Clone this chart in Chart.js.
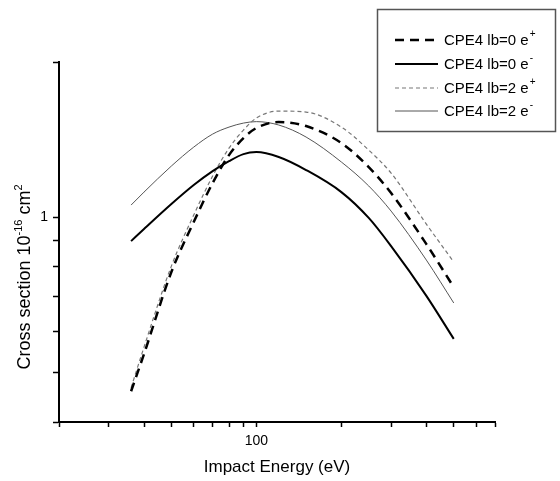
<!DOCTYPE html>
<html>
<head>
<meta charset="utf-8">
<script src="https://cdn.jsdelivr.net/npm/chart.js@4.4.1/dist/chart.umd.min.js"></script>
<style>
  html, body { margin: 0; padding: 0; background: #fff; }
  #wrap { width: 560px; height: 481px; }
</style>
</head>
<body>
<div id="wrap"><canvas id="myChart" width="560" height="481"></canvas></div>
<script>
// impact energies (eV) the curves were read at
const energy = [36, 40, 50, 60, 70, 80, 90, 100, 120, 150, 200, 250, 300, 400, 500];

// cross sections in units of 1e-16 cm^2
const lb0Positron = [0.459, 0.542, 0.782, 0.978, 1.164, 1.319, 1.423, 1.489, 1.529, 1.502, 1.392, 1.250, 1.113, 0.886, 0.731];
const lb0Electron = [0.898, 0.948, 1.060, 1.154, 1.228, 1.284, 1.325, 1.337, 1.308, 1.234, 1.118, 0.996, 0.878, 0.703, 0.580];
const lb2Positron = [0.466, 0.559, 0.803, 1.009, 1.201, 1.361, 1.475, 1.557, 1.606, 1.599, 1.495, 1.349, 1.217, 0.969, 0.818];
const lb2Electron = [1.055, 1.118, 1.256, 1.367, 1.449, 1.495, 1.522, 1.532, 1.509, 1.430, 1.279, 1.149, 1.027, 0.825, 0.681];

// legend text, charge goes in superscript
const seriesNames = ['CPE4 lb=0 e', 'CPE4 lb=0 e', 'CPE4 lb=2 e', 'CPE4 lb=2 e'];
const seriesCharge = ['+', '-', '+', '-'];

// tick marks (only some get a label)
const xTickValues = [20, 30, 40, 50, 60, 70, 80, 90, 100, 200, 300, 400, 500, 600, 700];
const yTickValues = [0.4, 0.5, 0.6, 0.7, 0.8, 0.9, 1, 2];
const xLabelled = [100];
const yLabelled = [1];

const FONT = "'Liberation Sans', Arial, sans-serif";

function points(ys) {
    return energy.map((e, i) => ({ x: e, y: ys[i] }));
}

// draws the boxed legend and the y title with superscripts
const extras = {
    id: 'extras',
    afterDraw(chart) {
        const c = chart.ctx;
        c.save();

        // legend box
        c.fillStyle = '#fff';
        c.fillRect(377.5, 9.5, 178, 122);
        c.strokeStyle = '#555';
        c.lineWidth = 1.5;
        c.strokeRect(377.5, 9.5, 178, 122);

        const rows = [40, 64, 88, 111];
        chart.data.datasets.forEach((ds, i) => {
            const y = rows[i];
            c.beginPath();
            c.strokeStyle = ds.borderColor;
            c.lineWidth = ds.borderWidth;
            c.setLineDash(ds.borderDash || []);
            c.moveTo(395, y);
            c.lineTo(438, y);
            c.stroke();
            c.setLineDash([]);

            c.fillStyle = '#000';
            c.font = '15px ' + FONT;
            c.textBaseline = 'alphabetic';
            c.textAlign = 'left';
            c.fillText(seriesNames[i], 444, y + 5);
            const w = c.measureText(seriesNames[i]).width;
            c.font = '10px ' + FONT;
            c.fillText(seriesCharge[i], 444 + w + 1, y - 3);
        });

        // y axis title, rotated
        const parts = [
            { t: 'Cross section 10', size: 18, rise: 0 },
            { t: '-16', size: 11, rise: 8 },
            { t: ' cm', size: 18, rise: 0 },
            { t: '2', size: 11, rise: 8 }
        ];
        let total = 0;
        parts.forEach(p => {
            c.font = p.size + 'px ' + FONT;
            p.w = c.measureText(p.t).width;
            total += p.w;
        });
        c.translate(30, 277);
        c.rotate(-Math.PI / 2);
        c.fillStyle = '#000';
        c.textBaseline = 'alphabetic';
        let pos = -total / 2;
        parts.forEach(p => {
            c.font = p.size + 'px ' + FONT;
            c.fillText(p.t, pos, -p.rise);
            pos += p.w;
        });

        c.restore();
    }
};

const ctx = document.getElementById('myChart').getContext('2d');

let myChart = new Chart(ctx, {
    type: 'line',
    data: {
        datasets: [
            {
                label: seriesNames[0] + seriesCharge[0],
                data: points(lb0Positron),
                borderColor: '#000',
                borderWidth: 2.5,
                borderDash: [9, 6]
            },
            {
                label: seriesNames[1] + seriesCharge[1],
                data: points(lb0Electron),
                borderColor: '#000',
                borderWidth: 2
            },
            {
                label: seriesNames[2] + seriesCharge[2],
                data: points(lb2Positron),
                borderColor: '#777',
                borderWidth: 1.2,
                borderDash: [4, 3]
            },
            {
                label: seriesNames[3] + seriesCharge[3],
                data: points(lb2Electron),
                borderColor: '#555',
                borderWidth: 1
            }
        ]
    },
    options: {
        responsive: false,
        animation: false,
        elements: {
            point: { radius: 0 },
            line: { cubicInterpolationMode: 'monotone', fill: false }
        },
        layout: {
            padding: { top: 62, right: 65, left: 0, bottom: 0 }
        },
        plugins: {
            legend: { display: false },
            tooltip: { enabled: false }
        },
        scales: {
            x: {
                type: 'logarithmic',
                position: 'bottom',
                min: 20,
                max: 700,
                afterBuildTicks: (scale) => {
                    scale.ticks = xTickValues.map(v => ({ value: v }));
                },
                afterFit: (scale) => { scale.height = 59; },
                ticks: {
                    autoSkip: false,
                    maxRotation: 0,
                    padding: 6,
                    color: '#000',
                    font: { family: FONT, size: 14 },
                    callback: (v) => xLabelled.includes(v) ? String(v) : ''
                },
                grid: {
                    drawOnChartArea: false,
                    drawTicks: true,
                    tickLength: 5,
                    tickColor: '#000',
                    tickWidth: 1.5
                },
                border: { display: true, color: '#000', width: 2 },
                title: {
                    display: true,
                    text: 'Impact Energy (eV)',
                    color: '#000',
                    font: { family: FONT, size: 17 },
                    padding: { top: 0, bottom: 3 }
                }
            },
            y: {
                type: 'logarithmic',
                position: 'left',
                min: 0.4,
                max: 2,
                afterBuildTicks: (scale) => {
                    scale.ticks = yTickValues.map(v => ({ value: v }));
                },
                afterFit: (scale) => { scale.width = 59; },
                ticks: {
                    autoSkip: false,
                    padding: 5,
                    color: '#000',
                    font: { family: FONT, size: 14 },
                    callback: (v) => yLabelled.includes(v) ? String(v) : ''
                },
                grid: {
                    drawOnChartArea: false,
                    drawTicks: true,
                    tickLength: 6,
                    tickColor: '#000',
                    tickWidth: 1.5
                },
                border: { display: true, color: '#000', width: 2 }
            }
        }
    },
    plugins: [extras]
});
</script>
</body>
</html>
